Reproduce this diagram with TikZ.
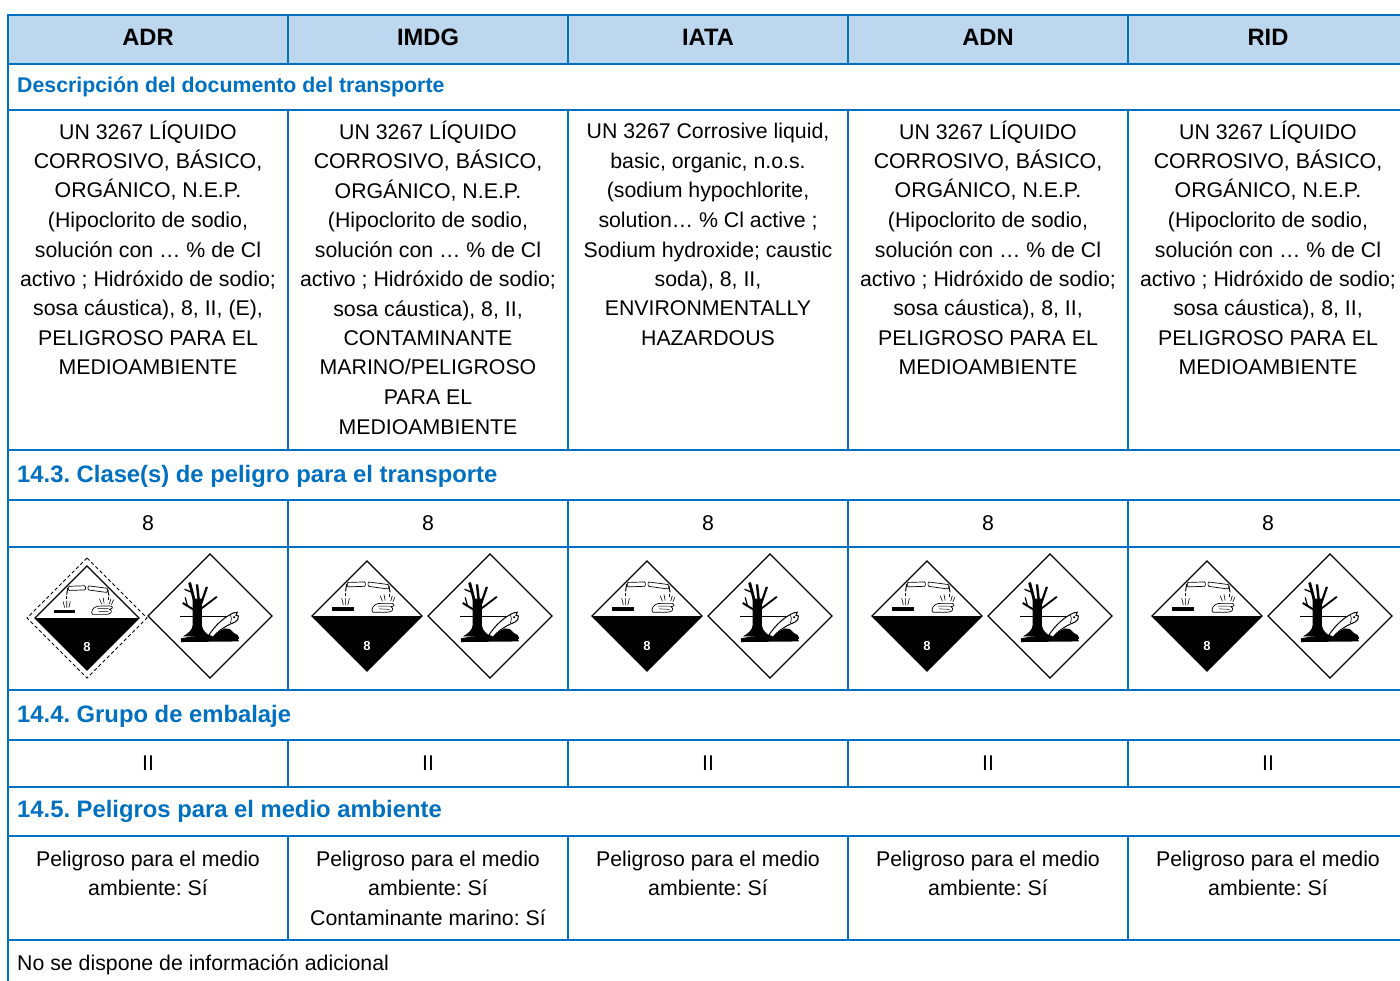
\documentclass[tikz,border=0pt]{standalone}
\usepackage{fontspec}
\setmainfont{Liberation Sans}
\frenchspacing
\definecolor{tblue}{HTML}{0070C0}
\definecolor{hfill}{HTML}{BDD7EE}
\tikzset{
  grid/.style={draw=tblue, line width=2pt},
  hdr/.style={font=\fontsize{23.7}{28}\selectfont\bfseries, anchor=base, inner sep=0pt},
  sec/.style={font=\fontsize{23.8}{28}\selectfont\bfseries, text=tblue, anchor=base west, inner sep=0pt},
  secsmall/.style={font=\fontsize{21.3}{28}\selectfont\bfseries, text=tblue, anchor=base west, inner sep=0pt},
  body/.style={font=\fontsize{21.3}{29.5}\selectfont, align=center, anchor=base, inner sep=0pt},
  bodyleft/.style={font=\fontsize{21.3}{29.5}\selectfont, anchor=base west, inner sep=0pt},
  corrpic/.pic={
    \fill[white] (0,-1)--(1,0)--(0,1)--(-1,0)--cycle;
    \fill[black] (-1,0)--(1,0)--(0,1)--cycle;
    \draw[line width=1.3pt, line join=miter] (0,-1)--(1,0)--(0,1)--(-1,0)--cycle;
    \node[font=\fontsize{13}{13}\selectfont\bfseries, text=white, inner sep=0pt] at (0,0.55) {8};
    % bar
    \fill (-0.64,-0.16) rectangle (-0.24,-0.09);
    % left tube
    \draw[line width=0.7pt, rounded corners=1pt, fill=white] (-0.36,-0.61) -- (-0.03,-0.62) -- (-0.03,-0.54) -- (-0.36,-0.53) -- cycle;
    \draw[line width=1pt] (-0.37,-0.58) -- (-0.39,-0.45);
    \draw[line width=0.8pt] (-0.39,-0.42) -- (-0.39,-0.36);
    \draw[line width=0.6pt] (-0.46,-0.32) -- (-0.43,-0.20) (-0.39,-0.33) -- (-0.39,-0.20) (-0.32,-0.32) -- (-0.35,-0.20);
    % right tube
    \draw[line width=0.7pt, rounded corners=1pt, fill=white] (0.02,-0.62) -- (0.40,-0.57) -- (0.39,-0.49) -- (0.02,-0.54) -- cycle;
    \draw[line width=1pt] (0.40,-0.54) -- (0.42,-0.43);
    \draw[line width=0.8pt] (0.41,-0.40) -- (0.41,-0.34);
    \draw[line width=0.6pt] (0.24,-0.37) -- (0.28,-0.27) (0.31,-0.39) -- (0.33,-0.28) (0.46,-0.37) -- (0.43,-0.27) (0.51,-0.35) -- (0.47,-0.26);
    % hand
    \draw[line width=0.7pt, fill=white] (0.09,-0.10) .. controls (0.09,-0.19) and (0.17,-0.24) .. (0.28,-0.23)
      -- (0.46,-0.23) .. controls (0.51,-0.21) and (0.49,-0.17) .. (0.43,-0.17)
      -- (0.46,-0.15) .. controls (0.49,-0.11) and (0.44,-0.07) .. (0.37,-0.07) -- (0.11,-0.07) -- cycle;
    \draw[line width=0.5pt] (0.20,-0.18) -- (0.41,-0.18) (0.22,-0.13) -- (0.41,-0.12);
  },
  envpic/.pic={
    \fill[white] (0,-1)--(1,0)--(0,1)--(-1,0)--cycle;
    \draw[line width=1.3pt, line join=miter] (0,-1)--(1,0)--(0,1)--(-1,0)--cycle;
    % ground
    \fill (-0.47,0.36) -- (-0.30,0.33) -- (0.0,0.31) -- (0.12,0.26) -- (0.24,0.20) -- (0.32,0.21)
      -- (0.38,0.27) -- (0.45,0.31) -- (0.47,0.36) -- (0.45,0.38) -- (0.47,0.41) -- (-0.47,0.42) -- cycle;
    % trunk
    \fill (-0.28,-0.28) -- (-0.13,-0.28) -- (-0.13,0.16) .. controls (-0.11,0.25) and (-0.05,0.29) .. (0.01,0.33)
      -- (-0.44,0.33) .. controls (-0.35,0.28) and (-0.29,0.23) .. (-0.28,0.15) -- cycle;
    % branches
    \draw[line width=2.8pt] (-0.25,-0.24) -- (-0.33,-0.54);
    \draw[line width=2.4pt] (-0.18,-0.24) -- (-0.21,-0.51);
    \draw[line width=2.2pt] (-0.15,-0.18) -- (-0.05,-0.47);
    \draw[line width=1.8pt] (-0.14,-0.12) -- (0.11,-0.31);
    \draw[line width=2pt] (-0.26,-0.10) -- (-0.44,-0.21);
    \draw[line width=1.3pt] (-0.29,-0.38) -- (-0.41,-0.43);
    \draw[line width=1.2pt] (-0.36,-0.15) -- (-0.40,-0.30);
    % water line
    \draw[line width=0.8pt] (-0.48,0.0) -- (0.30,0.0);
    % fish
    \draw[line width=1pt, fill=white] (-0.02,0.31) .. controls (0.08,0.16) and (0.22,0.02) .. (0.38,-0.05)
      -- (0.44,-0.06) -- (0.42,-0.01) -- (0.46,0.0) .. controls (0.46,0.05) and (0.44,0.08) .. (0.40,0.10)
      .. controls (0.26,0.15) and (0.13,0.24) .. (0.05,0.34) -- cycle;
    \fill (0.39,0.02) circle (0.02);
    \draw[line width=0.6pt] (0.33,-0.02) .. controls (0.35,0.03) and (0.35,0.07) .. (0.33,0.11);
  }
}
\begin{document}
\begin{tikzpicture}[x=1pt,y=-1pt]
\useasboundingbox (0,0) rectangle (1400,981);
\fill[white] (0,0) rectangle (1400,981);
\fill[hfill] (8,15) rectangle (1400,64);
% horizontal rules
\foreach \yy in {15,64,110,450,500,547,690,740,787,836,940}
  \draw[grid] (7,\yy) -- (1400,\yy);
% left border
\draw[grid] (8,14) -- (8,981);
% column separators
\foreach \xx in {288,568,848,1128} {
  \draw[grid] (\xx,15) -- (\xx,64);
  \draw[grid] (\xx,110) -- (\xx,450);
  \draw[grid] (\xx,500) -- (\xx,690);
  \draw[grid] (\xx,740) -- (\xx,787);
  \draw[grid] (\xx,836) -- (\xx,940);
}
% header
\node[hdr] (hADR) at (148,46) {ADR};
\node[hdr] (hIMDG) at (428,46) {IMDG};
\node[hdr] (hIATA) at (708,46) {IATA};
\node[hdr] (hADN) at (988,46) {ADN};
\node[hdr] (hRID) at (1268,46) {RID};
% section headings
\node[secsmall] (s0) at (17,93) {Descripción del documento del transporte};
\node[sec] (s1) at (17,482) {14.3. Clase(s) de peligro para el transporte};
\node[sec] (s2) at (17,722) {14.4. Grupo de embalaje};
\node[sec] (s3) at (17,817) {14.5. Peligros para el medio ambiente};
% description cells (base = last line baseline)
\node[body] (dADR) at (148,375) {UN 3267 LÍQUIDO\\CORROSIVO, BÁSICO,\\ORGÁNICO, N.E.P.\\(Hipoclorito de sodio,\\solución con … \% de Cl\\activo ; Hidróxido de sodio;\\sosa cáustica), 8, II, (E),\\PELIGROSO PARA EL\\MEDIOAMBIENTE};
\node[body] (dIMDG) at (428,434) {UN 3267 LÍQUIDO\\CORROSIVO, BÁSICO,\\ORGÁNICO, N.E.P.\\(Hipoclorito de sodio,\\solución con … \% de Cl\\activo ; Hidróxido de sodio;\\sosa cáustica), 8, II,\\CONTAMINANTE\\MARINO/PELIGROSO\\PARA EL\\MEDIOAMBIENTE};
\node[body] (dIATA) at (708,345.5) {UN 3267 Corrosive liquid,\\basic, organic, n.o.s.\\(sodium hypochlorite,\\solution… \% Cl active ;\\Sodium hydroxide; caustic\\soda), 8, II,\\ENVIRONMENTALLY\\HAZARDOUS};
\node[body] (dADN) at (988,375) {UN 3267 LÍQUIDO\\CORROSIVO, BÁSICO,\\ORGÁNICO, N.E.P.\\(Hipoclorito de sodio,\\solución con … \% de Cl\\activo ; Hidróxido de sodio;\\sosa cáustica), 8, II,\\PELIGROSO PARA EL\\MEDIOAMBIENTE};
\node[body] (dRID) at (1268,375) {UN 3267 LÍQUIDO\\CORROSIVO, BÁSICO,\\ORGÁNICO, N.E.P.\\(Hipoclorito de sodio,\\solución con … \% de Cl\\activo ; Hidróxido de sodio;\\sosa cáustica), 8, II,\\PELIGROSO PARA EL\\MEDIOAMBIENTE};
% class row
\node[body] (cADR) at (148,530) {8};
\node[body] (cIMDG) at (428,530) {8};
\node[body] (cIATA) at (708,530) {8};
\node[body] (cADN) at (988,530) {8};
\node[body] (cRID) at (1268,530) {8};
% pictograms
\draw[line width=1pt, dash pattern=on 3.5pt off 2.5pt] (87,558) -- (147,618) -- (87,678) -- (27,618) -- cycle;
\pic[scale=52] at (87,618) {corrpic};
\pic[scale=62] at (210,616) {envpic};
\foreach \cx in {288,568,848,1128} {
  \pic[scale=55] at (\cx+79,616) {corrpic};
  \pic[scale=62] at (\cx+202,616) {envpic};
}
% packing group row
\node[body] (gADR) at (148,770) {II};
\node[body] (gIMDG) at (428,770) {II};
\node[body] (gIATA) at (708,770) {II};
\node[body] (gADN) at (988,770) {II};
\node[body] (gRID) at (1268,770) {II};
% environment row
\node[body] (eADR) at (148,895.5) {Peligroso para el medio\\ambiente: Sí};
\node[body] (eIMDG) at (428,925) {Peligroso para el medio\\ambiente: Sí\\Contaminante marino: Sí};
\node[body] (eIATA) at (708,895.5) {Peligroso para el medio\\ambiente: Sí};
\node[body] (eADN) at (988,895.5) {Peligroso para el medio\\ambiente: Sí};
\node[body] (eRID) at (1268,895.5) {Peligroso para el medio\\ambiente: Sí};
% footer
\node[bodyleft] (foot) at (17,970) {No se dispone de información adicional};
\end{tikzpicture}
\end{document}
